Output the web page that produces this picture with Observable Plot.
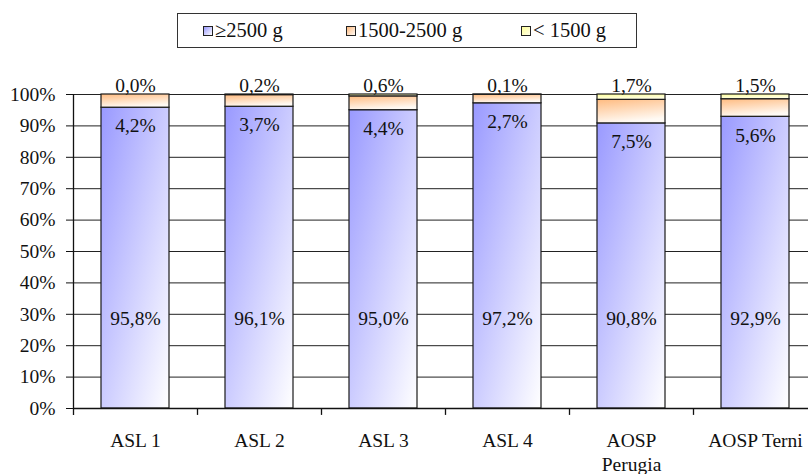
<!DOCTYPE html>
<html>
<head>
<meta charset="utf-8">
<script src="https://cdn.jsdelivr.net/npm/d3@7"></script>
<script src="https://cdn.jsdelivr.net/npm/@observablehq/plot@0.6"></script>
<style>
  body { margin: 0; background: #fff; font-family: "Liberation Serif", "Times New Roman", serif; color: #111; }
  #wrap { width: 808px; height: 474px; position: relative; overflow: hidden; background: #fff; }
  #legend { position: absolute; left: 177px; top: 13px; width: 458px; height: 33px; border: 1px solid #333; }
  .item { position: absolute; top: 0; height: 33px; display: flex; align-items: center; font-size: 20.5px; white-space: nowrap; }
  .sw { width: 8px; height: 8px; border: 1px solid #222; margin-right: 2px; }
  #chart { position: absolute; left: 0; top: 60px; }
</style>
</head>
<body>
<div id="wrap">
  <div id="legend"></div>
  <div id="chart"></div>
</div>
<script>
// Birth weight distribution by health authority
const categories = ["ASL 1", "ASL 2", "ASL 3", "ASL 4", "AOSP Perugia", "AOSP Terni"];
const xLabels = ["ASL 1", "ASL 2", "ASL 3", "ASL 4", "AOSP\nPerugia", "AOSP Terni"];
const seriesNames = ["\u22652500 g", "1500-2500 g", "< 1500 g"];
const over2500 = [95.8, 96.1, 95.0, 97.2, 90.8, 92.9];
const from1500to2500 = [4.2, 3.7, 4.4, 2.7, 7.5, 5.6];
const under1500 = [0.0, 0.2, 0.6, 0.1, 1.7, 1.5];
const yTicks = [0, 10, 20, 30, 40, 50, 60, 70, 80, 90, 100];

// gradient fills (top-left saturated, fading to white bottom-right)
const gradients = [
  {id: "gBlue", x2: 1, y2: 1, from: "#9999ff", to: "#ffffff"},
  {id: "gOrange", x2: 0.3, y2: 1, from: "#ffbb80", to: "#fffaf4"},
  {id: "gYellow", x2: 0.3, y2: 1, from: "#ffff99", to: "#ffffe6"}
];
const legendLeft = [25, 168, 343];

const rows = categories.flatMap((cat, i) => [
  {cat, series: seriesNames[0], value: over2500[i]},
  {cat, series: seriesNames[1], value: from1500to2500[i]},
  {cat, series: seriesNames[2], value: under1500[i]}
]);
const fmt = v => v.toFixed(1).replace(".", ",") + "%";
const blueRows = rows.filter(d => d.series === seriesNames[0]);
const orangeRows = rows.filter(d => d.series === seriesNames[1]);
const yellowRows = rows.filter(d => d.series === seriesNames[2]);

function defsMark() {
  const defs = d3.create("svg:defs");
  for (const g of gradients) {
    const lg = defs.append("linearGradient").attr("id", g.id)
      .attr("x1", 0).attr("y1", 0).attr("x2", g.x2).attr("y2", g.y2);
    lg.append("stop").attr("offset", "0").attr("stop-color", g.from);
    lg.append("stop").attr("offset", "1").attr("stop-color", g.to);
  }
  return defs.node();
}

const chart = Plot.plot({
  width: 808,
  height: 414,
  marginLeft: 73,
  marginRight: -9,
  marginTop: 34,
  marginBottom: 66,
  style: {fontFamily: '"Liberation Serif", "Times New Roman", serif', fontSize: "19.5px", color: "#111", background: "white"},
  x: {domain: categories, paddingInner: 0.45, paddingOuter: 0.225, label: null},
  y: {domain: [0, 100], label: null},
  color: {domain: seriesNames, range: gradients.map(g => `url(#${g.id})`)},
  marks: [
    defsMark,
    Plot.gridY(yTicks, {stroke: "#222", strokeOpacity: 1}),
    Plot.barY(rows, {x: "cat", y: "value", fill: "series", stroke: "#1a1a1a", strokeWidth: 1.2}),
    Plot.ruleY([0], {stroke: "#111", strokeWidth: 1.3}),
    Plot.ruleX(categories, {x: d => d, dx: -62, y1: -2.2, y2: (d, i) => (i === 0 ? 100 : 0), stroke: "#111", strokeWidth: 1.3}),
    Plot.axisY(yTicks, {tickFormat: d => d + "%", tickSize: 7, tickPadding: 11, stroke: "#111"}),
    Plot.axisX({tickSize: 0, tickPadding: 22, lineHeight: 1.22, tickFormat: d => xLabels[categories.indexOf(d)]}),
    Plot.text(blueRows, {x: "cat", y: () => 28.6, text: d => fmt(d.value), fill: "#111"}),
    Plot.text(orangeRows, {x: "cat", y: (d, i) => over2500[i], dy: 18.5, text: d => fmt(d.value), fill: "#111"}),
    Plot.text(yellowRows, {x: "cat", y: () => 100, dy: -9, text: d => fmt(d.value), fill: "#111"})
  ]
});
document.getElementById("chart").append(chart);

// legend
const legend = d3.select("#legend");
seriesNames.forEach((name, i) => {
  const g = gradients[i];
  const item = legend.append("div").attr("class", "item").style("left", legendLeft[i] + "px");
  item.append("div").attr("class", "sw")
    .style("background", `linear-gradient(135deg, ${g.from}, ${g.to})`);
  item.append("span").text(name);
});
</script>
</body>
</html>
